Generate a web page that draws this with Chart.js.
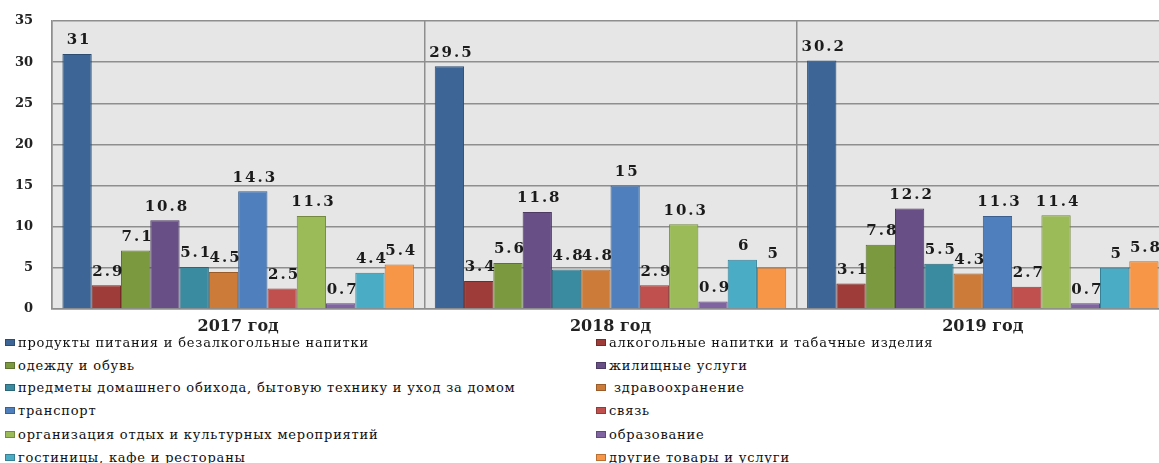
<!DOCTYPE html>
<html>
<head>
<meta charset="utf-8">
<script src="https://cdn.jsdelivr.net/npm/chart.js@4"></script>
<style>
  html, body { margin: 0; padding: 0; background: #fff; overflow: hidden; }
  #wrap { position: relative; width: 1159px; height: 463px; overflow: hidden; }
  #box { position: absolute; left: 0; top: 0; width: 1169px; height: 340px; }
  #legend { position: absolute; left: 0; top: 332px; width: 1159px; font-family: "DejaVu Serif", serif; font-size: 13px; color: #111; letter-spacing: 0.8px; }
  .item { position: absolute; white-space: nowrap; line-height: 22px; }
  .item i { display: inline-block; width: 10px; height: 7px; margin-right: 3px; vertical-align: 1px; border: 1px solid rgba(0,0,0,0.25); box-sizing: border-box; }
</style>
</head>
<body>
<div id="wrap">
  <div id="box"><canvas id="spendChart"></canvas></div>
  <div id="legend"></div>
</div>
<script>
const years = ['2017 год', '2018 год', '2019 год'];
const seriesNames = [
  'продукты питания и безалкогольные напитки',
  'алкогольные напитки и табачные изделия',
  'одежду и обувь',
  'жилищные услуги',
  'предметы домашнего обихода, бытовую технику и уход за домом',
  ' здравоохранение',
  'транспорт',
  'связь',
  'организация отдых и культурных мероприятий',
  'образование',
  'гостиницы, кафе и рестораны',
  'другие товары и услуги'
];
const food = [31, 29.5, 30.2];
const alcohol = [2.9, 3.4, 3.1];
const clothes = [7.1, 5.6, 7.8];
const housing = [10.8, 11.8, 12.2];
const household = [5.1, 4.8, 5.5];
const health = [4.5, 4.8, 4.3];
const transport = [14.3, 15, 11.3];
const telecom = [2.5, 2.9, 2.7];
const leisure = [11.3, 10.3, 11.4];
const education = [0.7, 0.9, 0.7];
const hotels = [4.4, 6, 5];
const other = [5.4, 5, 5.8];

const seriesValues = [food, alcohol, clothes, housing, household, health, transport, telecom, leisure, education, hotels, other];
const colors = ['#3d6697', '#9d3c38', '#7b9a40', '#684f85', '#3a8aa0', '#cc7b38',
                '#4f80bd', '#c0504d', '#9bbb59', '#8064a2', '#4bacc6', '#f79646'];
const borders = ['#2c4c72', '#762a27', '#5b7430', '#4c3a62', '#2a6778', '#9a5a27',
                 '#3a5f8e', '#8f3b39', '#74893f', '#5f4a7a', '#378096', '#b86f34'];

const plotBg = {
  id: 'plotBg',
  beforeDraw(chart) {
    const { ctx, chartArea: a } = chart;
    ctx.save();
    ctx.fillStyle = '#e6e6e6';
    ctx.fillRect(a.left, a.top, a.right - a.left, a.bottom - a.top);
    ctx.restore();
  }
};

// y tick labels, right edge at x=33 like the original
const yLabels = {
  id: 'yLabels',
  afterDraw(chart) {
    const ctx = chart.ctx;
    const s = chart.scales.y;
    ctx.save();
    ctx.font = 'bold 13px "DejaVu Serif", serif';
    ctx.fillStyle = '#222';
    ctx.textAlign = 'left';
    ctx.textBaseline = 'middle';
    s.ticks.forEach(t => {
      const txt = String(t.value);
      ctx.fillText(txt, 33 - ctx.measureText(txt).width, s.getPixelForValue(t.value));
    });
    ctx.restore();
  }
};

// value above each bar, drawn with a little space between characters
const valueLabels = {
  id: 'valueLabels',
  afterDatasetsDraw(chart) {
    const ctx = chart.ctx;
    const gap = 2;
    ctx.save();
    ctx.font = 'bold 15px "DejaVu Serif", serif';
    ctx.fillStyle = '#1b1b1b';
    ctx.textAlign = 'left';
    ctx.textBaseline = 'bottom';
    chart.data.datasets.forEach((ds, i) => {
      chart.getDatasetMeta(i).data.forEach((bar, j) => {
        const chars = String(ds.data[j]).split('');
        const widths = chars.map(c => ctx.measureText(c).width);
        const total = widths.reduce((a, b) => a + b, 0) + gap * (chars.length - 1);
        let x = bar.x + 1 - total / 2;
        chars.forEach((c, k) => {
          ctx.fillText(c, x, bar.y - 6);
          x += widths[k] + gap;
        });
      });
    });
    ctx.restore();
  }
};

new Chart(document.getElementById('spendChart'), {
  type: 'bar',
  data: {
    labels: years,
    datasets: seriesValues.map((vals, i) => ({
      label: seriesNames[i],
      data: vals,
      backgroundColor: colors[i],
      borderColor: borders[i],
      borderWidth: 1
    }))
  },
  options: {
    responsive: true,
    maintainAspectRatio: false,
    animation: false,
    layout: { padding: { top: 21, left: 0, right: 0, bottom: 0 } },
    datasets: { bar: { categoryPercentage: 0.944, barPercentage: 1 } },
    plugins: { legend: { display: false }, tooltip: { enabled: false } },
    scales: {
      x: {
        grid: { offset: true, color: '#8e8e8e', lineWidth: 1.5, drawTicks: false },
        border: { color: '#8e8e8e', width: 1.5 },
        ticks: { color: '#222', padding: 8, font: { family: '"DejaVu Serif", serif', size: 16, weight: 'bold' } },
        afterFit(s) { s.height = 31; }
      },
      y: {
        min: 0, max: 35,
        ticks: { stepSize: 5, display: false, padding: 0 },
        grid: { color: '#8e8e8e', lineWidth: 1.5, drawTicks: false },
        border: { color: '#8e8e8e', width: 1.5 },
        afterFit(s) { s.width = 52; }
      }
    }
  },
  plugins: [plotBg, valueLabels, yLabels]
});

// legend in two columns, like the original
const legend = document.getElementById('legend');
const rowY = [0, 23, 45, 68, 92, 115];
seriesNames.forEach((name, i) => {
  const el = document.createElement('div');
  el.className = 'item';
  el.style.left = (i % 2 === 0 ? 5 : 596) + 'px';
  el.style.top = rowY[Math.floor(i / 2)] + 'px';
  el.innerHTML = '<i style="background:' + colors[i] + '"></i>';
  el.appendChild(document.createTextNode(name));
  legend.appendChild(el);
});
</script>
</body>
</html>
